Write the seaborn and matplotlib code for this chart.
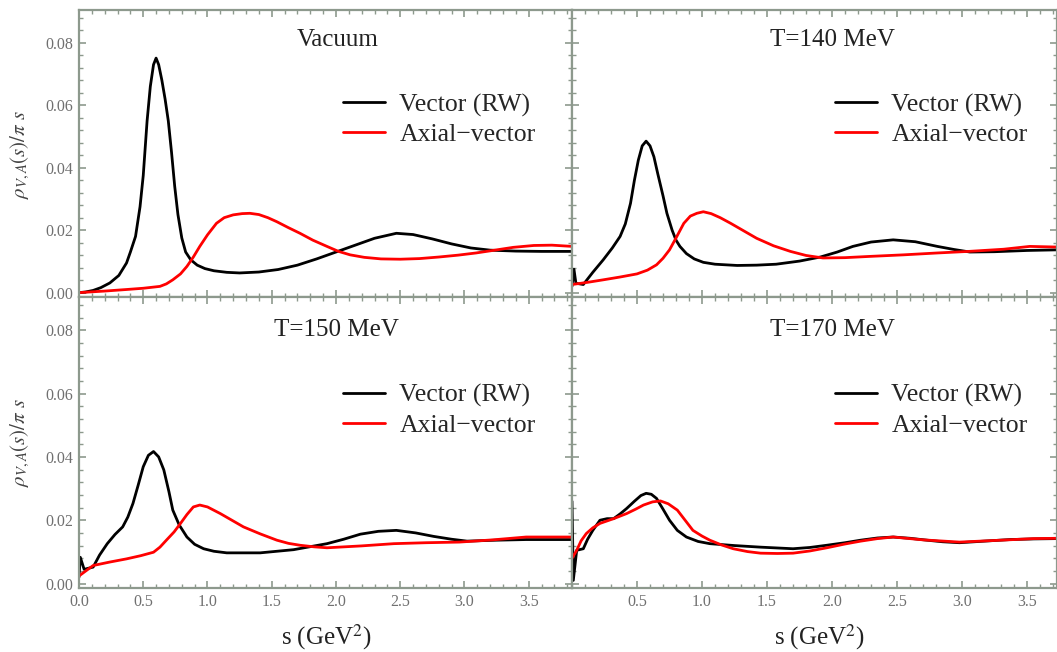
import matplotlib
matplotlib.use("Agg")
import matplotlib.pyplot as plt
import seaborn as sns
from matplotlib.ticker import MultipleLocator, FormatStrFormatter

sns.set_theme(style="ticks")
plt.rcParams['font.family'] = ['Liberation Serif', 'DejaVu Serif']
plt.rcParams['mathtext.fontset'] = 'stix'

# panel titles
titles = ["Vacuum", "T=140 MeV", "T=150 MeV", "T=170 MeV"]

# vacuum
s_vac_v = [0, 0.05, 0.11, 0.17, 0.24, 0.31, 0.37, 0.40, 0.44, 0.475, 0.50, 0.53, 0.555, 0.58, 0.60, 0.62,
           0.645, 0.67, 0.695, 0.72, 0.745, 0.77, 0.80, 0.83, 0.87, 0.92, 0.98, 1.05, 1.15, 1.25, 1.40,
           1.55, 1.70, 1.85, 2.00, 2.15, 2.30, 2.47, 2.60, 2.75, 2.90, 3.05, 3.20, 3.40, 3.60, 3.84]
v_vac_v = [0, 0.0002, 0.0007, 0.0016, 0.0031, 0.0055, 0.0095, 0.013, 0.018, 0.0275, 0.0375, 0.055, 0.066,
           0.073, 0.0751, 0.073, 0.068, 0.062, 0.055, 0.045, 0.034, 0.025, 0.0175, 0.013, 0.0105, 0.0088,
           0.0077, 0.0070, 0.0065, 0.0063, 0.0066, 0.0074, 0.0088, 0.0108, 0.0130, 0.0152, 0.0174, 0.019,
           0.0186, 0.0172, 0.0156, 0.0143, 0.0136, 0.0133, 0.0132, 0.0132]
s_vac_a = [0, 0.2, 0.37, 0.5, 0.63, 0.68, 0.73, 0.79, 0.84, 0.89, 0.94, 1.00, 1.07, 1.13, 1.20, 1.27, 1.33,
           1.40, 1.47, 1.54, 1.63, 1.72, 1.82, 1.93, 2.02, 2.11, 2.22, 2.35, 2.50, 2.65, 2.80, 2.95, 3.09,
           3.22, 3.38, 3.54, 3.68, 3.84]
v_vac_a = [0, 0.0005, 0.001, 0.0014, 0.002, 0.0028, 0.0041, 0.006, 0.0084, 0.0114, 0.0148, 0.0185, 0.0222,
           0.0240, 0.0249, 0.0253, 0.0254, 0.0250, 0.0240, 0.0227, 0.0208, 0.019, 0.0168, 0.0148, 0.0132,
           0.0121, 0.0113, 0.0108, 0.0107, 0.0109, 0.0114, 0.0120, 0.0127, 0.0135, 0.0145, 0.0151, 0.0152,
           0.0148]

# T=140 MeV
s_140_v = [0, 0.015, 0.03, 0.087, 0.16, 0.24, 0.31, 0.37, 0.41, 0.45, 0.48, 0.51, 0.54, 0.57, 0.60, 0.63,
           0.66, 0.70, 0.73, 0.77, 0.80, 0.83, 0.88, 0.94, 1.01, 1.10, 1.27, 1.42, 1.57, 1.75, 1.91, 2.04,
           2.16, 2.30, 2.47, 2.64, 2.81, 2.94, 3.06, 3.25, 3.50, 3.73]
v_140_v = [0.002, 0.0075, 0.003, 0.0026, 0.0065, 0.0105, 0.0143, 0.018, 0.022, 0.0286, 0.036, 0.0424,
           0.047, 0.0485, 0.047, 0.0435, 0.038, 0.031, 0.0254, 0.020, 0.0168, 0.0148, 0.0125, 0.0108,
           0.0097, 0.0091, 0.0087, 0.0088, 0.0091, 0.0101, 0.0114, 0.0130, 0.0148, 0.0162, 0.0169, 0.0163,
           0.0148, 0.0138, 0.013, 0.0131, 0.0135, 0.0137]
s_140_a = [0, 0.12, 0.24, 0.37, 0.50, 0.58, 0.65, 0.70, 0.75, 0.80, 0.86, 0.91, 0.96, 1.01, 1.07, 1.14,
           1.22, 1.32, 1.42, 1.55, 1.68, 1.80, 1.93, 2.10, 2.29, 2.55, 2.81, 3.05, 3.32, 3.52, 3.73]
v_140_a = [0.0026, 0.0033, 0.0041, 0.005, 0.006, 0.0072, 0.0089, 0.011, 0.0137, 0.0175, 0.0222, 0.0245,
           0.0254, 0.0259, 0.0253, 0.0240, 0.0222, 0.0198, 0.0174, 0.0150, 0.0132, 0.0119, 0.0111, 0.0112,
           0.0116, 0.0121, 0.0127, 0.0132, 0.0139, 0.0148, 0.0146]

# T=150 MeV
s_150_v = [0, 0.01, 0.04, 0.11, 0.16, 0.22, 0.28, 0.34, 0.38, 0.42, 0.46, 0.50, 0.54, 0.58, 0.62, 0.66,
           0.70, 0.73, 0.78, 0.84, 0.90, 0.97, 1.05, 1.15, 1.41, 1.67, 1.93, 2.06, 2.19, 2.33, 2.47, 2.62,
           2.76, 2.90, 3.02, 3.25, 3.48, 3.84]
v_150_v = [0.002, 0.0083, 0.0045, 0.0052, 0.009, 0.0126, 0.0155, 0.0179, 0.021, 0.0253, 0.031, 0.0369,
           0.0405, 0.0417, 0.040, 0.0359, 0.029, 0.0232, 0.0185, 0.0147, 0.0124, 0.011, 0.0102, 0.0097,
           0.0097, 0.0107, 0.0126, 0.0140, 0.0156, 0.0165, 0.0168, 0.0160, 0.0149, 0.0140, 0.0134, 0.0137,
           0.0139, 0.0139]
s_150_a = [0, 0.11, 0.24, 0.37, 0.48, 0.58, 0.63, 0.68, 0.74, 0.79, 0.84, 0.89, 0.94, 1.00, 1.10, 1.19,
           1.28, 1.41, 1.54, 1.63, 1.72, 1.83, 1.93, 2.20, 2.45, 2.70, 2.96, 3.22, 3.48, 3.84]
v_150_a = [0.0024, 0.0057, 0.0068, 0.0078, 0.0088, 0.0099, 0.0115, 0.0137, 0.0163, 0.019, 0.0218, 0.0242,
           0.0248, 0.0242, 0.0221, 0.0200, 0.0179, 0.0157, 0.0137, 0.0127, 0.0121, 0.0116, 0.0113, 0.0119,
           0.0126, 0.0129, 0.0131, 0.0138, 0.0147, 0.0147]

# T=170 MeV
s_170_v = [0, 0.01, 0.036, 0.087, 0.12, 0.16, 0.215, 0.27, 0.32, 0.37, 0.42, 0.48, 0.53, 0.57, 0.61, 0.65,
           0.70, 0.75, 0.81, 0.88, 0.97, 1.06, 1.25, 1.45, 1.70, 1.83, 1.96, 2.10, 2.22, 2.35, 2.47, 2.60,
           2.73, 2.85, 2.98, 3.17, 3.37, 3.55, 3.73]
v_170_v = [0.026, 0.001, 0.0105, 0.011, 0.014, 0.0168, 0.020, 0.0205, 0.0205, 0.022, 0.0237, 0.026, 0.0278,
           0.0285, 0.0282, 0.0269, 0.0235, 0.020, 0.0168, 0.0147, 0.0133, 0.0126, 0.012, 0.0115, 0.011,
           0.0114, 0.0121, 0.0129, 0.0137, 0.0144, 0.0147, 0.0143, 0.0137, 0.0132, 0.0129, 0.0134, 0.0139,
           0.0141, 0.0142]
s_170_a = [0, 0.036, 0.07, 0.11, 0.16, 0.215, 0.32, 0.42, 0.49, 0.55, 0.62, 0.68, 0.74, 0.81, 0.87, 0.93,
           1.00, 1.06, 1.15, 1.24, 1.35, 1.45, 1.58, 1.70, 1.83, 1.96, 2.10, 2.22, 2.35, 2.47, 2.70, 2.98,
           3.30, 3.55, 3.73]
v_170_a = [0.008, 0.0105, 0.0135, 0.0158, 0.0176, 0.019, 0.0205, 0.0221, 0.0235, 0.0248, 0.0258, 0.0261,
           0.0252, 0.0232, 0.020, 0.0168, 0.015, 0.0137, 0.0122, 0.011, 0.0101, 0.0096, 0.0095, 0.0096,
           0.0103, 0.0113, 0.0125, 0.0134, 0.0142, 0.0147, 0.0138, 0.0131, 0.0137, 0.0142, 0.0143]

panels = [
    (s_vac_v, v_vac_v, s_vac_a, v_vac_a),
    (s_140_v, v_140_v, s_140_a, v_140_a),
    (s_150_v, v_150_v, s_150_a, v_150_a),
    (s_170_v, v_170_v, s_170_a, v_170_a),
]

W, H = 1057, 652
fig = plt.figure(figsize=(W / 100, H / 100), dpi=100)
fig.patch.set_facecolor("white")

# axes boxes in pixels: (left, top, right, bottom)
boxes = [(79, 10, 572, 297), (572, 10, 1057, 297), (79, 297, 572, 588), (572, 297, 1057, 588)]
xmax = [3.837, 3.73, 3.837, 3.73]
title_x = [0.525, 0.537, 0.523, 0.537]
title_y = [0.895, 0.895, 0.887, 0.887]

frame_col = "#8d998d"
tick_col = "#707070"

for i, (sv, vv, sa, va) in enumerate(panels):
    l, t, r, b = boxes[i]
    ax = fig.add_axes([l / W, 1 - b / H, (r - l) / W, (b - t) / H])
    ax.set_facecolor("white")
    sns.lineplot(x=sv, y=vv, ax=ax, color="black", lw=2.0, sort=False, estimator=None,
                 label="Vector (RW)")
    sns.lineplot(x=sa, y=va, ax=ax, color="#ff0000", lw=2.0, sort=False, estimator=None,
                 label="Axial\u2212vector")
    for ln in ax.lines:
        ln.set_solid_joinstyle("round")
    ax.set_xlim(0, xmax[i])
    ax.set_ylim(-0.0014, 0.0905)
    ax.set_xlabel("")
    ax.set_ylabel("")

    ax.xaxis.set_major_locator(MultipleLocator(0.5))
    ax.xaxis.set_minor_locator(MultipleLocator(0.1))
    ax.yaxis.set_major_locator(MultipleLocator(0.02))
    ax.yaxis.set_minor_locator(MultipleLocator(0.004))
    ax.xaxis.set_major_formatter(FormatStrFormatter("%.1f"))
    ax.yaxis.set_major_formatter(FormatStrFormatter("%.2f"))
    ax.tick_params(which="both", direction="in", top=True, right=True, color=frame_col,
                   labelcolor=tick_col, labelsize=11.5, pad=4)
    ax.tick_params(which="major", length=5, width=1.2)
    ax.tick_params(which="minor", length=3, width=1.0)
    if i < 2:
        ax.tick_params(labelbottom=False)
    if i % 2 == 1:
        ax.tick_params(labelleft=False)
    if i == 3:
        ax.set_xticks([0.5, 1.0, 1.5, 2.0, 2.5, 3.0, 3.5])
    for sp in ax.spines.values():
        sp.set_color(frame_col)
        sp.set_linewidth(1.6)

    ax.text(title_x[i], title_y[i], titles[i], transform=ax.transAxes, ha="center", va="center",
            fontsize=18, color="#222222")
    lx = 0.535 if i % 2 == 0 else 0.542
    ly = 0.618 if i < 2 else 0.611
    ax.legend(loc="center left", bbox_to_anchor=(lx, ly), frameon=False, fontsize=18.5,
              handlelength=1.65, handletextpad=0.55, labelspacing=0.25, borderpad=0,
              borderaxespad=0)

# y labels
for yc in [1 - 155 / H, 1 - 443 / H]:
    fig.text(20 / W, yc, r"$\rho_{V,A}(s)/\pi\ s$", rotation=90, ha="center", va="center",
             fontsize=15, color="#444444")
# x labels
for xc in [326 / W, 819 / W]:
    fig.text(xc, 1 - 637 / H, r"s (GeV$^2$)", ha="center", va="center", fontsize=18, color="#222222")

fig.savefig("out.png", dpi=100, facecolor="white")
